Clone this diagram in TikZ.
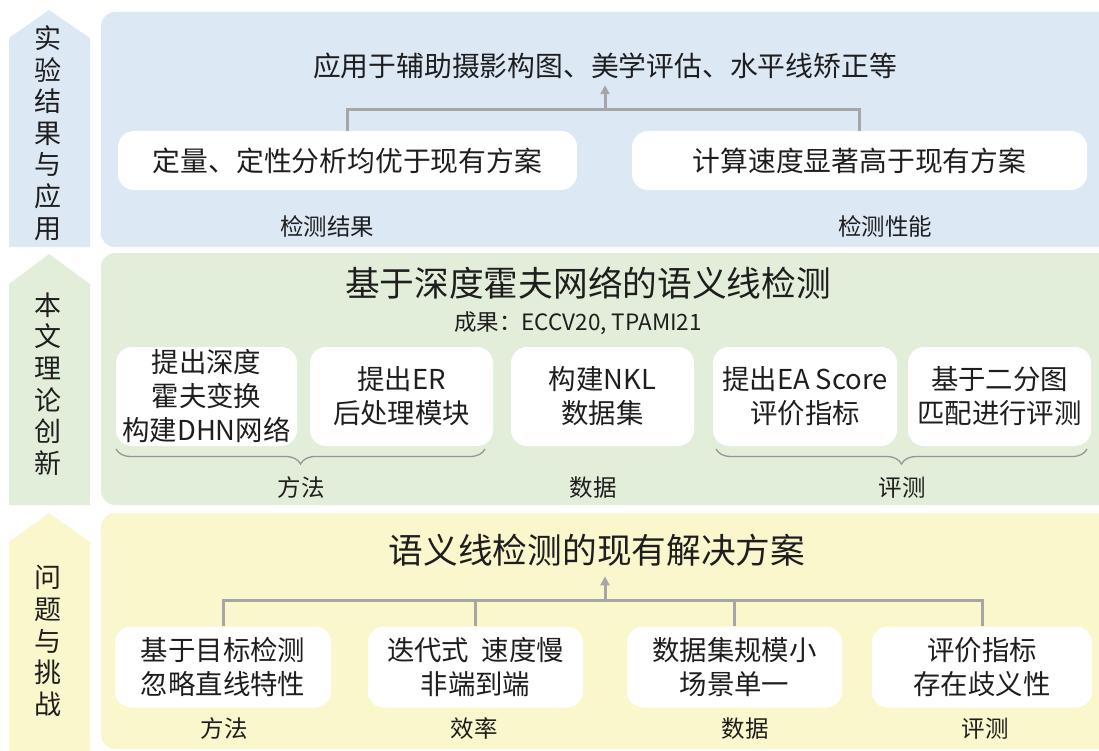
\documentclass[tikz,border=0pt]{standalone}
\usepackage{fontspec}
\setmainfont{Noto Sans CJK SC}
\usetikzlibrary{decorations.pathreplacing,arrows.meta}
\definecolor{bluebg}{HTML}{DDE8F5}
\definecolor{greenbg}{HTML}{E2EEDA}
\definecolor{yellowbg}{HTML}{FAF7CD}
\definecolor{lgray}{HTML}{A6A6A6}
\definecolor{txt}{HTML}{1E1E1E}
\begin{document}
\begin{tikzpicture}[x=1pt,y=-1pt,
  every node/.style={text=txt},
  panel/.style={rounded corners=14pt},
  sidetxt/.style={align=center,inner sep=0pt,font=\fontsize{27}{31.6}\selectfont},
  bigtitle/.style={inner sep=10pt,font=\fontsize{34.7}{40}\selectfont},
  midtitle/.style={inner sep=6pt,font=\fontsize{27.8}{32}\selectfont},
  subtitle/.style={inner sep=0pt,font=\fontsize{22.5}{26}\selectfont},
  wbox/.style={fill=white,rounded corners=16pt,inner sep=0pt,align=center,
    font=\fontsize{27.4}{34}\selectfont},
  lbl/.style={inner sep=0pt,font=\fontsize{23.5}{26}\selectfont},
  conn/.style={draw=lgray,line width=3pt},
  arr/.style={draw=lgray,line width=3pt,-{Triangle[length=9pt,width=9pt]}},
  bracestyle/.style={draw=lgray!90!black,line width=1.3pt,
    decorate,decoration={brace,mirror,amplitude=15pt}}
]
\useasboundingbox (0,0) rectangle (1099,751);
\clip (0,0) rectangle (1099,751);

% side arrows
\fill[bluebg] (9,38) -- (49,10) -- (90,38) -- (90,247) -- (9,247) -- cycle;
\fill[greenbg] (9,284) -- (49,254) -- (90,284) -- (90,505) -- (9,505) -- cycle;
\fill[yellowbg] (9,542) -- (49,513) -- (90,542) -- (90,751) -- (9,751) -- cycle;
\node[sidetxt] (s1) at (48,133) {实\\验\\结\\果\\与\\应\\用};
\node[sidetxt] (s2) at (48,384) {本\\文\\理\\论\\创\\新};
\node[sidetxt] (s3) at (48,641) {问\\题\\与\\挑\\战};

% panels
\fill[bluebg,panel] (101,12) rectangle (1115,247);
\fill[greenbg,panel] (101,253) rectangle (1115,505);
\fill[yellowbg,panel] (101,513) rectangle (1115,749);

% ===== top panel =====
\node[midtitle] (app) at (605,66) {应用于辅助摄影构图、美学评估、水平线矫正等};
\node[wbox,minimum width=459pt,minimum height=59pt,font=\fontsize{27.8}{32}\selectfont] (r1) at (347.5,160.5) {定量、定性分析均优于现有方案};
\node[wbox,minimum width=455pt,minimum height=59pt,font=\fontsize{27.8}{32}\selectfont] (r2) at (859.5,160.5) {计算速度显著高于现有方案};
\coordinate (j1) at (605,110);
\draw[conn] (r1.north) |- (j1) -| (r2.north);
\draw[arr] (j1) -- (j1 |- app.south);
\node[lbl] (l1) at (327,226) {检测结果};
\node[lbl] (l2) at (885,226) {检测性能};

% ===== middle panel =====
\node[bigtitle,inner sep=0pt] (gt) at (588,283) {基于深度霍夫网络的语义线检测};
\node[subtitle] (gs) at (578,323) {成果：ECCV20, TPAMI21};
\node[wbox,minimum width=181pt,minimum height=99pt] (g1) at (206.5,396.5) {提出深度\\霍夫变换\\构建DHN网络};
\node[wbox,minimum width=183pt,minimum height=99pt] (g2) at (401.5,396.5) {提出ER\\后处理模块};
\node[wbox,minimum width=183pt,minimum height=99pt] (g3) at (602.5,396.5) {构建NKL\\数据集};
\node[wbox,minimum width=184pt,minimum height=99pt] (g4) at (805,396.5) {提出EA Score\\评价指标};
\node[wbox,minimum width=183pt,minimum height=99pt] (g5) at (999.5,396.5) {基于二分图\\匹配进行评测};
\coordinate (b1a) at (116,449);
\coordinate (b1b) at (485,449);
\coordinate (b2a) at (716,449);
\coordinate (b2b) at (1087,449);
\draw[bracestyle] (b1a) -- (b1b);
\draw[bracestyle] (b2a) -- (b2b);
\node[lbl] (m1) at (301,488) {方法};
\node[lbl] (m2) at (593,488) {数据};
\node[lbl] (m3) at (902,488) {评测};

% ===== bottom panel =====
\node[bigtitle] (yt) at (597,550) {语义线检测的现有解决方案};
\node[wbox,minimum width=216pt,minimum height=81pt] (y1) at (223,667) {基于目标检测\\忽略直线特性};
\node[wbox,minimum width=215pt,minimum height=81pt] (y2) at (475.5,667) {迭代式\ \ 速度慢\\非端到端};
\node[wbox,minimum width=215pt,minimum height=81pt] (y3) at (734.5,667) {数据集规模小\\场景单一};
\node[wbox,minimum width=220pt,minimum height=81pt] (y4) at (982,667) {评价指标\\存在歧义性};
\coordinate (j2) at (605,600);
\draw[conn] (y1.north) |- (j2) -| (y4.north);
\draw[conn] (y2.north) -- (y2.north |- j2);
\draw[conn] (y3.north) -- (y3.north |- j2);
\draw[arr] (j2) -- (j2 |- yt.south);
\node[lbl] (n1) at (224,729) {方法};
\node[lbl] (n2) at (474,729) {效率};
\node[lbl] (n3) at (745,729) {数据};
\node[lbl] (n4) at (985,729) {评测};
\end{tikzpicture}
\end{document}
